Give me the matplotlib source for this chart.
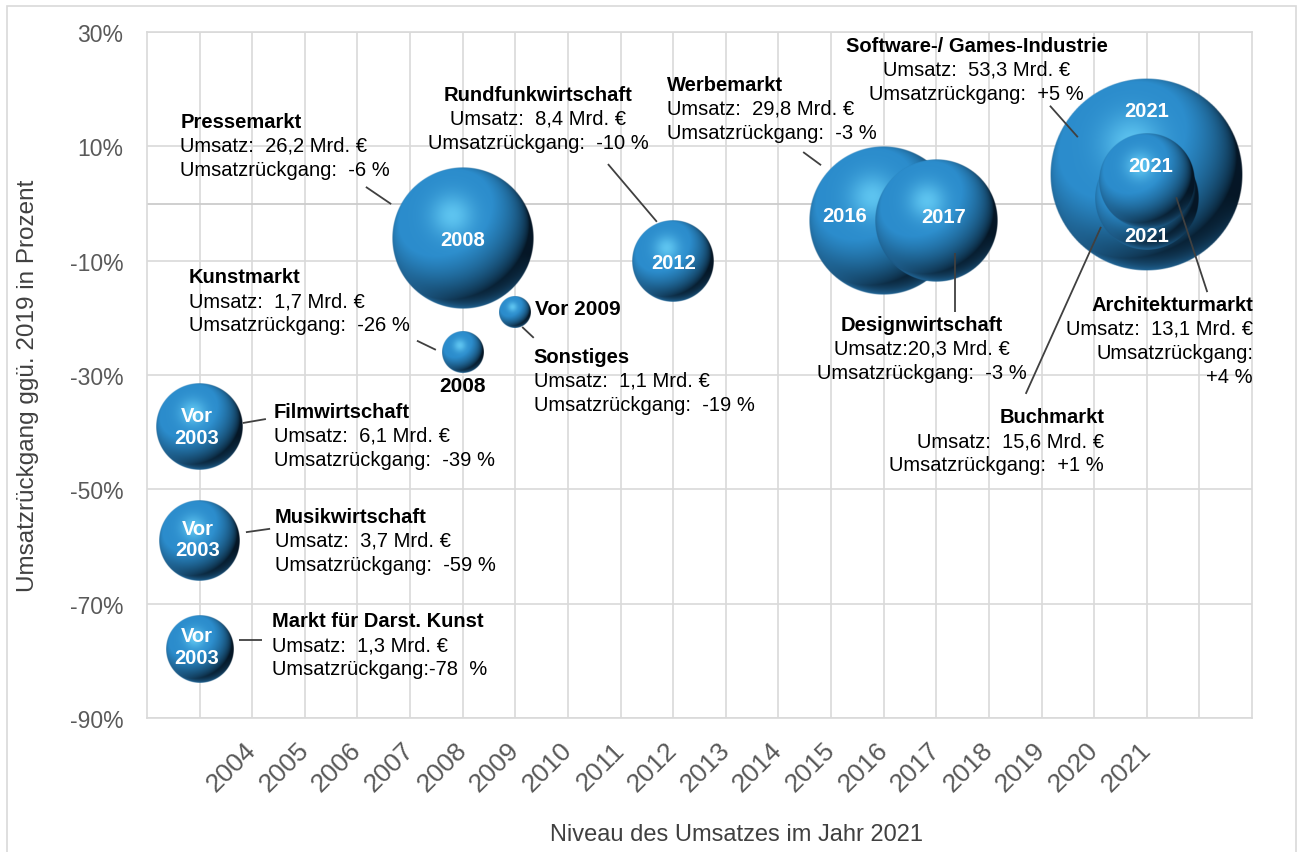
# Umsatzrückgang der Teilmärkte der Kultur- und Kreativwirtschaft (Blasendiagramm)
import numpy as np
import matplotlib.pyplot as plt
from matplotlib.patches import Rectangle

plt.rcParams['font.family'] = ['Liberation Sans', 'DejaVu Sans']

# Daten (Reihenfolge = Zeichenreihenfolge, hintere Blasen zuerst)
markets = ['Pressemarkt', 'Rundfunkwirtschaft', 'Werbemarkt', 'Designwirtschaft',
           'Software-/ Games-Industrie', 'Buchmarkt', 'Architekturmarkt',
           'Kunstmarkt', 'Sonstiges', 'Filmwirtschaft', 'Musikwirtschaft',
           'Markt für Darst. Kunst']
level_year = [2008, 2012, 2016, 2017, 2021, 2021, 2021, 2008, 2009, 2003, 2003, 2003]
change = [-6, -10, -3, -3, 5, 1, 4, -26, -19, -39, -59, -78]
revenue = [26.2, 8.4, 29.8, 20.3, 53.3, 15.6, 13.1, 1.7, 1.1, 6.1, 3.7, 1.3]
bubble_size = [28.0, 9.3, 30.8, 20.7, 51.7, 15.0, 12.8, 2.45, 1.42, 10.5, 9.1, 6.4]
bubble_text = ['2008', '2012', '2016', '2017', '2021', '2021', '2021', '', '',
               'Vor\n2003', 'Vor\n2003', 'Vor\n2003']
outside_text = ['', '', '', '', '', '', '', '2008', 'Vor 2009', '', '', '']

year_ticks = ['2004', '2005', '2006', '2007', '2008', '2009', '2010', '2011', '2012',
              '2013', '2014', '2015', '2016', '2017', '2018', '2019', '2020', '2021']
pct_ticks = [-90, -70, -50, -30, -10, 10, 30]

# Layout der Beschriftungen (Datenkoordinaten)
label_pos = [(2002.63, 14.4, 'left'), (2009.43, 19.15, 'center'), (2011.88, 20.9, 'left'),
             (2016.73, -21.1, 'center'), (2017.77, 27.7, 'center'), (2020.19, -37.3, 'right'),
             (2023.02, -17.6, 'right'), (2002.8, -12.85, 'left'), (2009.35, -26.7, 'left'),
             (2004.41, -36.3, 'left'), (2004.43, -54.7, 'left'), (2004.38, -73.0, 'left')]
leaders = [((2006.16, 2.9), (2006.64, -0.1)), ((2010.76, 6.9), (2011.69, -3.2)),
           ((2014.47, 9.0), (2014.81, 6.7)), ((2017.36, -8.7), (2017.36, -19.0)),
           ((2019.16, 17.1), (2019.69, 11.6)), ((2020.13, -4.1), (2018.70, -33.3)),
           ((2021.56, 1.1), (2022.15, -15.5)), ((2007.13, -24.0), (2007.49, -25.6)),
           ((2009.13, -21.6), (2009.35, -23.5)), ((2003.82, -38.4), (2004.26, -37.7)),
           ((2003.88, -57.5), (2004.34, -56.9)), ((2003.75, -76.35), (2004.19, -76.35))]
inner_offset = [(0, -2), (0, -2), (-39, 5), (7, 4), (0, 64), (0, -38), (4, 15),
                (0, 0), (0, 0), (-3, 0), (-2, 2), (-3, 3)]
outer_offset = [(0, 0)] * 7 + [(0, -33), (20, 4)] + [(0, 0)] * 3


def fmt(v):
    return f'{v:.1f}'.replace('.', ',')


def label_lines(name, rev, chg):
    sign = '+' if chg > 0 else ''
    umsatz = f'Umsatz:  {fmt(rev)} Mrd. €'
    rueck = [f'Umsatzrückgang:  {sign}{chg} %']
    if name == 'Designwirtschaft':
        umsatz = f'Umsatz:{fmt(rev)} Mrd. €'
    if name == 'Architekturmarkt':
        rueck = ['Umsatzrückgang:', f'{sign}{chg} %']
    if name == 'Markt für Darst. Kunst':
        rueck = [f'Umsatzrückgang:{chg}  %']
    return [name, umsatz] + rueck


def sphere_image(n=300):
    yy, xx = np.mgrid[1:-1:n * 1j, -1:1:n * 1j]
    rr = np.hypot(xx, yy)
    nz = np.sqrt(np.clip(1 - rr ** 2, 0, 1))
    light = np.array([-0.35, 0.5, 0.8])
    light /= np.linalg.norm(light)
    diff = np.clip((xx * light[0] + yy * light[1] + nz * light[2]) * 1.4, 0, 1) ** 0.75
    dark = np.array([0.02, 0.09, 0.15])
    mid = np.array([0.17, 0.55, 0.80])
    glow = np.array([0.45, 0.86, 1.0])
    rgb = dark + (mid - dark) * diff[..., None]
    spot = np.exp(-((xx + 0.15) ** 2 + (yy - 0.32) ** 2) / 0.09)
    rgb += (glow - rgb) * (0.7 * spot)[..., None]
    rim = np.clip(rr, 0, 1) ** 6 * np.clip(-0.8 * yy - 0.2 * xx, 0, 1)
    rgb += (np.array([0.2, 0.6, 0.88]) - rgb) * (0.75 * rim)[..., None]
    alpha = np.clip((1 - rr) * n / 2, 0, 1)
    return np.dstack([np.clip(rgb, 0, 1), alpha])


W, H = 1298, 853
fig = plt.figure(figsize=(W / 100, H / 100), dpi=100)
fig.patch.set_facecolor('white')
fig.patches.append(Rectangle((7 / W, -0.01), (1296 - 7) / W, 1 - 7 / H + 0.01,
                             transform=fig.transFigure, fill=False,
                             edgecolor='#d9d9d9', lw=1.2))
ax = fig.add_axes([147 / W, (H - 719) / H, (1252 - 147) / W, (719 - 33) / H])
xmin, xmax, ymin, ymax = 2002, 2023, -90, 30

px_x = ax.get_window_extent().width / (xmax - xmin)
px_y = ax.get_window_extent().height / (ymax - ymin)

img = sphere_image()
for i, name in enumerate(markets):
    x, y = level_year[i], change[i]
    r = np.sqrt(180 * bubble_size[i])
    hw, hh = r / px_x, r / px_y
    ax.imshow(img, extent=[x - hw, x + hw, y - hh, y + hh], origin='upper',
              aspect='auto', interpolation='bilinear', zorder=3 + i)
    if bubble_text[i]:
        ax.annotate(bubble_text[i], (x, y), xytext=inner_offset[i],
                    textcoords='offset pixels', ha='center', va='center',
                    color='white', fontsize=14.5, fontweight='bold',
                    linespacing=1.15, zorder=30)
    if outside_text[i]:
        dx, dy = outer_offset[i]
        ax.annotate(outside_text[i], (x, y), xytext=(dx, dy),
                    textcoords='offset pixels', ha='center' if dx == 0 else 'left',
                    va='center', color='black', fontsize=15, fontweight='bold', zorder=30)

    # Datenbeschriftung
    lx, ly, ha = label_pos[i]
    for k, line in enumerate(label_lines(name, revenue[i], change[i])):
        ax.annotate(line, (lx, ly), xytext=(0, -24 * k), textcoords='offset pixels',
                    ha=ha, va='center', fontsize=14.5, color='black',
                    fontweight='bold' if k == 0 else 'normal', zorder=40,
                    annotation_clip=False)
    (x0, y0), (x1, y1) = leaders[i]
    ax.plot([x0, x1], [y0, y1], color='#404040', lw=1.3, zorder=35,
            solid_capstyle='butt')

ax.set_xlim(xmin, xmax)
ax.set_ylim(ymin, ymax)
ax.set_xticks(range(2003, 2023))
ax.set_xticklabels([''] + year_ticks + [''])
ax.set_yticks(pct_ticks)
ax.set_yticklabels([f'{v}%' for v in pct_ticks])
ax.tick_params(axis='both', length=0, colors='#595959')
ax.tick_params(axis='x', labelsize=19, pad=20)
ax.tick_params(axis='y', labelsize=16.5, pad=17)
for lbl in ax.get_xticklabels():
    lbl.set_rotation(45)
    lbl.set_rotation_mode('anchor')
    lbl.set_ha('right')
    lbl.set_va('center')

ax.grid(True, color='#d9d9d9', lw=1.2)
ax.set_axisbelow(True)
ax.axhline(0, color='#cccccc', lw=1.3, zorder=1)
for sp in ax.spines.values():
    sp.set_color('#d9d9d9')
    sp.set_linewidth(1.2)

fig.text(28 / W, 1 - 386 / H, 'Umsatzrückgang ggü. 2019 in Prozent', rotation=90,
         ha='center', va='center', fontsize=17.5, color='#404040')
fig.text(737 / W, 1 - 835 / H, 'Niveau des Umsatzes im Jahr 2021',
         ha='center', va='center', fontsize=17, color='#404040')

plt.savefig('out.png', dpi=100)
